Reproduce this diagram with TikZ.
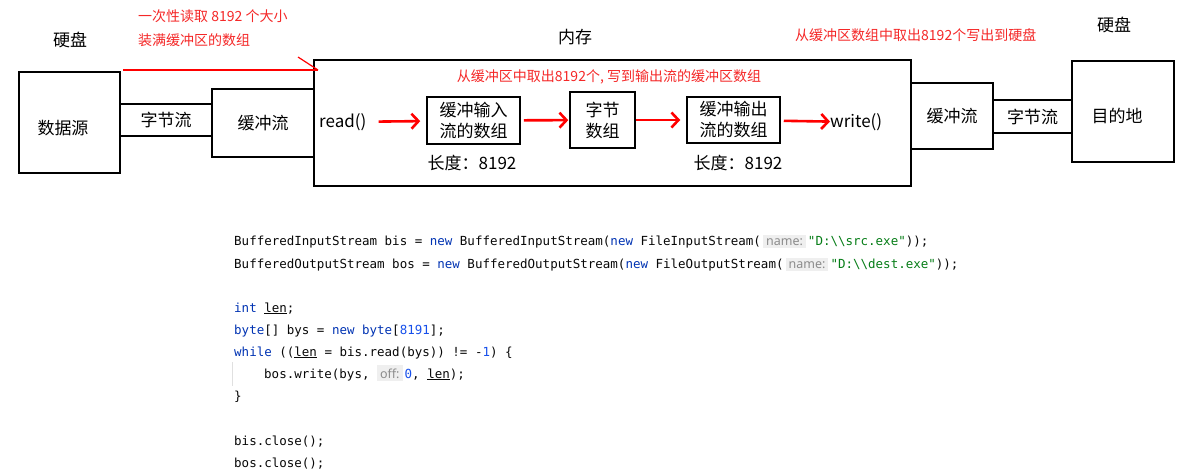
\documentclass[tikz,border=0pt]{standalone}
\usepackage{fontspec}
\setmainfont{Noto Sans CJK SC}
\setmonofont{DejaVu Sans Mono}
\newfontfamily\hintfont{Noto Sans}
\usetikzlibrary{positioning,arrows.meta}
\definecolor{notered}{HTML}{F52828}
\definecolor{kwblue}{HTML}{0033B3}
\definecolor{numblue}{HTML}{1750EB}
\definecolor{strgreen}{HTML}{067D17}
\definecolor{codeink}{HTML}{080808}
\definecolor{hintbg}{HTML}{EFEFEF}
\definecolor{hintfg}{HTML}{8C8C8C}
\newcommand{\kw}[1]{\textcolor{kwblue}{#1}}
\newcommand{\nm}[1]{\textcolor{numblue}{#1}}
\newcommand{\str}[1]{\textcolor{strgreen}{#1}}
\newcommand{\hint}[1]{{\fboxsep=3pt\colorbox{hintbg}{\hintfont\fontsize{12.5}{13}\selectfont\textcolor{hintfg}{#1}}}}
\tikzset{
  box/.style={draw, line width=1.5pt, inner sep=0pt, align=center,
    font=\fontsize{17}{21}\selectfont},
  label/.style={inner sep=1pt, font=\fontsize{17}{21}\selectfont},
  note/.style={inner sep=0pt, text=notered, font=\fontsize{14}{17}\selectfont},
  flow/.style={draw=red, line width=2.6pt, -{Straight Barb[length=7pt,width=15pt]}},
  code/.style={anchor=base west, inner sep=0pt, text=codeink,
    font=\ttfamily\fontsize{12.5}{15}\selectfont},
}

\begin{document}
\begin{tikzpicture}[x=1pt, y=-1pt]

    \useasboundingbox[fill=white] (0,0) rectangle (1181,475);

    % disk, source side
    \node[label] (disk1) at (70,40) {硬盘};
    \node[box, minimum width=101pt, minimum height=101pt] (src) at (69.5,122.5) {};
    \node[label] (srct) at (63,128) {数据源};
    \node[box, minimum width=92pt, minimum height=32pt] (bs1) at (166,120) {字节流};
    \node[box, minimum width=102pt, minimum height=68pt] (bf1) at (263,123) {缓冲流};

    % memory
    \node[label] (ram) at (575,37) {内存};
    \node[box, minimum width=597pt, minimum height=126pt] (mem) at (612.5,123) {};
    \node[label, anchor=west, inner sep=0pt] (rd) at (319,122) {read()};
    \node[box, minimum width=93pt, minimum height=47pt] (ib) at (473.5,120.5)
        {缓冲输入\\流的数组};
    \node[box, minimum width=65pt, minimum height=56pt] (ba) at (602.5,120)
        {字节\\数组};
    \node[box, minimum width=93pt, minimum height=46pt] (ob) at (733.5,120)
        {缓冲输出\\流的数组};
    \node[label, anchor=west, inner sep=0pt] (wr) at (830,122) {write()};
    \node[label] (len1) at (472,163) {长度：8192};
    \node[label] (len2) at (738,163) {长度：8192};

    \draw[flow, shorten <=12pt, shorten >=6pt] (rd) to (ib);
    \draw[flow, shorten <=3pt, shorten >=1pt] (ib) to (ba);
    \draw[flow, shorten >=6pt] (ba) to (ob);
    \draw[flow, shorten <=3pt] (ob) to (wr);

    % disk, target side
    \node[label] (disk2) at (1114,25) {硬盘};
    \node[box, minimum width=82pt, minimum height=66pt] (bf2) at (952,116) {缓冲流};
    \node[box, minimum width=79pt, minimum height=33pt] (bs2) at (1032.5,116.5) {字节流};
    \node[box, minimum width=102pt, minimum height=101pt] (dst) at (1123,111.5) {};
    \node[label] (dstt) at (1117,116) {目的地};

    % red notes
    \node[note, anchor=west] (n1) at (138,16) {一次性读取 8192 个大小};
    \node[note, anchor=west] (n2) at (138,40) {装满缓冲区的数组};
    \node[note] (n3) at (609,77) {从缓冲区中取出8192个, 写到输出流的缓冲区数组};
    \node[note, anchor=west] (n4) at (795,35) {从缓冲区数组中取出8192个写出到硬盘};

    \coordinate (rl1) at (123,70);
    \coordinate (rl2) at (318,70);
    \coordinate (rl3) at (298,57);
    \draw[red, line width=1.2pt] (rl1) -- (rl2);
    \draw[red, line width=1.2pt] (rl3) -- (rl2);

    % code
    \node[code] (c1) at (234,245) {BufferedInputStream bis = \kw{new} BufferedInputStream(\kw{new} FileInputStream(\,\hint{name:}\,\str{"D:\textbackslash\textbackslash src.exe"}));};
    \node[code] (c2) at (234,268) {BufferedOutputStream bos = \kw{new} BufferedOutputStream(\kw{new} FileOutputStream(\,\hint{name:}\,\str{"D:\textbackslash\textbackslash dest.exe"}));};
    \node[code] (c3) at (234,312) {\kw{int} \underline{len};};
    \node[code] (c4) at (234,334) {\kw{byte}[] bys = \kw{new} \kw{byte}[\nm{8191}];};
    \node[code] (c5) at (234,356) {\kw{while} ((\underline{len} = bis.read(bys)) != -\nm{1}) \{};
    \node[code] (c6) at (264,378) {bos.write(bys, \hint{off:}\,\nm{0}, \underline{len});};
    \node[code] (c7) at (234,400) {\}};
    \node[code] (c8) at (234,445) {bis.close();};
    \node[code] (c9) at (234,467) {bos.close();};

    \coordinate (g1) at (232,362);
    \coordinate (g2) at (232,386);
    \draw[black!12, line width=0.8pt] (g1) -- (g2);

\end{tikzpicture}
\end{document}
